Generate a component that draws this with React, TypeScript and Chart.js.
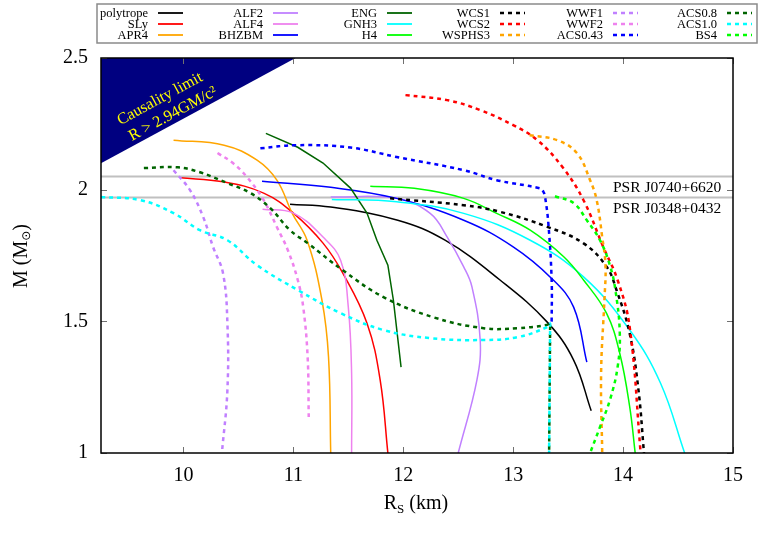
import React, { useEffect, useRef } from "react";
import { Chart, registerables } from "chart.js";

Chart.register(...registerables);

// ---------- data ----------
const xTicks = [10, 11, 12, 13, 14, 15];
const yTicks = [1, 1.5, 2, 2.5];
const xRange = [9.25, 15];
const yRange = [1, 2.5];

const psrMasses = [2.05, 1.97];
const psrNames = ["PSR J0740+6620", "PSR J0348+0432"];

// causality limit boundary (R in km, M in Msun)
const causalityEdge: [number, number][] = [
  [9.25, 2.1],
  [11.02, 2.5],
];
const causalityText = ["Causality limit", "R > 2.94GM/c²"];

const polytrope: [number, number][] = [
  [10.97, 1.945], [11.34, 1.934], [11.95, 1.884], [12.38, 1.808],
  [12.88, 1.657], [13.31, 1.497], [13.55, 1.353], [13.71, 1.16],
];
const SLy: [number, number][] = [
  [9.97, 2.045], [10.36, 2.03], [10.73, 1.987], [11.0, 1.911],
  [11.27, 1.797], [11.45, 1.683], [11.67, 1.493], [11.79, 1.277], [11.86, 1.0],
];
const APR4: [number, number][] = [
  [9.91, 2.188], [10.37, 2.169], [10.67, 2.112], [10.85, 2.036],
  [10.99, 1.91], [11.125, 1.808], [11.26, 1.581], [11.32, 1.365], [11.34, 1.0],
];
const ALF2: [number, number][] = [
  [11.34, 1.972], [11.94, 1.967], [12.245, 1.91], [12.4, 1.82],
  [12.55, 1.707], [12.625, 1.631], [12.7, 1.429], [12.67, 1.277], [12.5, 1.0],
];
const ALF4: [number, number][] = [
  [10.72, 1.926], [11.0, 1.911], [11.27, 1.82], [11.43, 1.732],
  [11.5, 1.554], [11.53, 1.304], [11.53, 1.0],
];
const BHZBM: [number, number][] = [
  [10.715, 2.032], [11.34, 2.009], [11.94, 1.967], [12.55, 1.884],
  [13.0, 1.783], [13.35, 1.663], [13.55, 1.554], [13.67, 1.345],
];
const ENG: [number, number][] = [
  [10.75, 2.214], [11.04, 2.161], [11.27, 2.101], [11.52, 2.006],
  [11.67, 1.911], [11.76, 1.808], [11.86, 1.713], [11.91, 1.581], [11.98, 1.326],
];
const GNH3: [number, number][] = [
  [11.35, 1.963], [11.94, 1.954], [12.55, 1.91], [13.155, 1.808],
  [13.64, 1.669], [14.06, 1.467], [14.34, 1.266], [14.56, 1.0],
];
const H4: [number, number][] = [
  [11.7, 2.013], [12.1, 2.005], [12.55, 1.967], [12.85, 1.91], [13.155, 1.846],
  [13.46, 1.745], [13.64, 1.657], [13.85, 1.53], [13.97, 1.378], [14.06, 1.176], [14.11, 1.0],
];
const WCS1: [number, number][] = [
  [11.88, 1.967], [12.55, 1.941], [12.88, 1.916], [13.31, 1.859], [13.64, 1.796],
  [13.85, 1.707], [13.94, 1.619], [14.06, 1.454], [14.14, 1.239], [14.19, 1.0],
];
const WCS2: [number, number][] = [
  [12.02, 2.359], [12.4, 2.34], [12.7, 2.302], [13.0, 2.245], [13.22, 2.188],
  [13.45, 2.085], [13.64, 1.96], [13.82, 1.782], [13.95, 1.657], [14.06, 1.478], [14.16, 1.0],
];
const WSPHS3: [number, number][] = [
  [13.15, 2.207], [13.4, 2.188], [13.58, 2.139], [13.7, 2.036], [13.76, 1.96],
  [13.81, 1.82], [13.84, 1.713], [13.83, 1.581], [13.8, 1.304], [13.81, 1.0],
];
const WWF1: [number, number][] = [
  [9.91, 2.074], [10.06, 1.998], [10.18, 1.896], [10.27, 1.782],
  [10.36, 1.683], [10.4, 1.493], [10.4, 1.239], [10.35, 1.0],
];
const WWF2: [number, number][] = [
  [10.31, 2.139], [10.45, 2.101], [10.58, 2.047], [10.73, 1.96], [10.85, 1.858],
  [10.95, 1.77], [11.04, 1.657], [11.09, 1.554], [11.13, 1.364], [11.14, 1.137],
];
const ACS043: [number, number][] = [
  [10.7, 2.157], [11.03, 2.169], [11.52, 2.16], [11.94, 2.124], [12.55, 2.074],
  [12.85, 2.036], [13.245, 2.005], [13.275, 1.992], [13.29, 1.973], [13.32, 1.872],
  [13.35, 1.657], [13.35, 1.492],
];
const ACS08: [number, number][] = [
  [9.64, 2.082], [9.95, 2.085], [10.15, 2.066], [10.4, 2.025], [10.61, 1.987],
  [10.79, 1.93], [10.97, 1.846], [11.13, 1.797], [11.45, 1.694], [11.82, 1.592],
  [12.27, 1.516], [12.73, 1.474], [13.04, 1.474], [13.306, 1.486], [13.336, 1.492],
  [13.336, 1.475], [13.327, 1.0],
];
const ACS10: [number, number][] = [
  [9.25, 1.972], [9.61, 1.96], [9.91, 1.911], [10.15, 1.846], [10.4, 1.808],
  [10.67, 1.713], [11.04, 1.619], [11.43, 1.531], [11.82, 1.467], [12.25, 1.436],
  [12.73, 1.429], [13.04, 1.44], [13.31, 1.478], [13.336, 1.492], [13.336, 1.475], [13.327, 1.0],
];
const BS4: [number, number][] = [
  [13.38, 1.975], [13.55, 1.949], [13.67, 1.884], [13.79, 1.808], [13.88, 1.713],
  [13.93, 1.619], [13.97, 1.455], [13.95, 1.326], [13.88, 1.201], [13.79, 1.099], [13.7, 1.0],
];

const seriesNames = [
  "polytrope", "SLy", "APR4", "ALF2", "ALF4", "BHZBM", "ENG", "GNH3", "H4",
  "WCS1", "WCS2", "WSPHS3", "WWF1", "WWF2", "ACS0.43", "ACS0.8", "ACS1.0", "BS4",
];
const seriesData = [
  polytrope, SLy, APR4, ALF2, ALF4, BHZBM, ENG, GNH3, H4,
  WCS1, WCS2, WSPHS3, WWF1, WWF2, ACS043, ACS08, ACS10, BS4,
];
const seriesColors = [
  "#000000", "#ff0000", "#ffa500", "#c080ff", "#ee82ee", "#0000ff", "#006400", "#00ffff", "#00ff00",
  "#000000", "#ff0000", "#ffa500", "#c080ff", "#ee82ee", "#0000ff", "#006400", "#00ffff", "#00ff00",
];
const seriesDashed = [
  false, false, false, false, false, false, false, false, false,
  true, true, true, true, true, true, true, true, true,
];
const seriesTension = [
  0.4, 0.4, 0.4, 0.4, 0.4, 0.4, 0, 0.4, 0.4,
  0.4, 0.4, 0.4, 0.4, 0.4, 0.4, 0.4, 0.4, 0.4,
];

// ---------- styling ----------
const SERIF = "'Liberation Serif', 'Times New Roman', serif";
const DASH = [4, 4];

const decorPlugin = {
  id: "decor",
  afterDatasetsDraw(chart: any) {
    const ctx: CanvasRenderingContext2D = chart.ctx;
    const { left, right, top, bottom } = chart.chartArea;
    const xs = chart.scales.x;
    const ys = chart.scales.y;
    ctx.save();

    // causality text
    ctx.fillStyle = "#ffff00";
    ctx.font = `16px ${SERIF}`;
    ctx.textAlign = "center";
    ctx.textBaseline = "middle";
    const p0x = xs.getPixelForValue(causalityEdge[0][0]);
    const p0y = ys.getPixelForValue(causalityEdge[0][1]);
    const p1x = xs.getPixelForValue(causalityEdge[1][0]);
    const p1y = ys.getPixelForValue(causalityEdge[1][1]);
    const ang = Math.atan2(p1y - p0y, p1x - p0x);
    const centers = [
      [160, 99],
      [173, 114],
    ];
    causalityText.forEach((t, i) => {
      ctx.save();
      ctx.translate(centers[i][0], centers[i][1]);
      ctx.rotate(ang);
      ctx.fillText(t, 0, 0);
      ctx.restore();
    });

    // PSR labels
    ctx.fillStyle = "#000";
    ctx.font = `15.5px ${SERIF}`;
    ctx.textAlign = "left";
    ctx.textBaseline = "middle";
    ctx.fillText(psrNames[0], 613, 188);
    ctx.fillText(psrNames[1], 613, 209);

    // inward ticks
    ctx.strokeStyle = "#707070";
    ctx.lineWidth = 1;
    ctx.beginPath();
    xTicks.forEach((v) => {
      const px = Math.round(xs.getPixelForValue(v)) + 0.5;
      ctx.moveTo(px, bottom);
      ctx.lineTo(px, bottom - 6);
      ctx.moveTo(px, top);
      ctx.lineTo(px, top + 6);
    });
    yTicks.forEach((v) => {
      const py = Math.round(ys.getPixelForValue(v)) + 0.5;
      ctx.moveTo(left, py);
      ctx.lineTo(left + 6, py);
      ctx.moveTo(right, py);
      ctx.lineTo(right - 6, py);
    });
    ctx.stroke();

    // frame
    ctx.strokeStyle = "#000";
    ctx.lineWidth = 1.5;
    ctx.strokeRect(left, top, right - left, bottom - top);

    // axis titles
    ctx.fillStyle = "#000";
    ctx.textBaseline = "alphabetic";
    ctx.textAlign = "left";
    // x title: R_S (km)
    {
      const big = `20px ${SERIF}`;
      const small = `13px ${SERIF}`;
      ctx.font = big;
      const wR = ctx.measureText("R").width;
      const wK = ctx.measureText(" (km)").width;
      ctx.font = small;
      const wS = ctx.measureText("S").width;
      const total = wR + wS + wK;
      let x = 416 - total / 2;
      const base = 509;
      ctx.font = big;
      ctx.fillText("R", x, base);
      x += wR;
      ctx.font = small;
      ctx.fillText("S", x, base + 4);
      x += wS;
      ctx.font = big;
      ctx.fillText(" (km)", x, base);
    }
    // y title: M (M_sun)
    {
      ctx.save();
      ctx.translate(20, 256);
      ctx.rotate(-Math.PI / 2);
      const big = `20px ${SERIF}`;
      const small = `12px 'DejaVu Sans', sans-serif`;
      ctx.font = big;
      const w1 = ctx.measureText("M (M").width;
      const w3 = ctx.measureText(")").width;
      ctx.font = small;
      const w2 = ctx.measureText("⊙").width;
      const total = w1 + w2 + w3;
      let x = -total / 2;
      const base = 7;
      ctx.font = big;
      ctx.fillText("M (M", x, base);
      x += w1;
      ctx.font = small;
      ctx.fillText("⊙", x, base + 3);
      x += w2;
      ctx.font = big;
      ctx.fillText(")", x, base);
      ctx.restore();
    }

    // legend
    const boxL = 97, boxT = 4, boxR = 757, boxB = 43;
    ctx.strokeStyle = "#8a8a8a";
    ctx.lineWidth = 1.5;
    ctx.strokeRect(boxL, boxT, boxR - boxL, boxB - boxT);
    const colEnd = [148, 263, 377, 490, 603, 717];
    const rowY = [13, 24, 35];
    ctx.font = `12.5px ${SERIF}`;
    ctx.textAlign = "right";
    ctx.textBaseline = "middle";
    seriesNames.forEach((name, i) => {
      const c = Math.floor(i / 3);
      const r = i % 3;
      const xe = colEnd[c];
      const y = rowY[r];
      ctx.fillStyle = "#000";
      ctx.fillText(name, xe, y + 0.5);
      ctx.strokeStyle = seriesColors[i];
      ctx.lineWidth = seriesDashed[i] ? 2.5 : 1.8;
      ctx.setLineDash(seriesDashed[i] ? DASH : []);
      ctx.beginPath();
      ctx.moveTo(xe + 10, y);
      ctx.lineTo(xe + 35, y);
      ctx.stroke();
    });
    ctx.setLineDash([]);
    ctx.restore();
  },
};

export default function App() {
  const ref = useRef<HTMLCanvasElement>(null);

  useEffect(() => {
    const n = seriesData.length;
    const datasets: any[] = [];

    datasets.push({
      label: "causality",
      data: causalityEdge.map(([x, y]) => ({ x, y })),
      showLine: true,
      borderWidth: 0,
      borderColor: "rgba(0,0,0,0)",
      backgroundColor: "#000080",
      fill: "end",
      pointRadius: 0,
      order: 1000,
    });
    psrMasses.forEach((m, i) => {
      datasets.push({
        label: psrNames[i],
        data: [
          { x: xRange[0], y: m },
          { x: xRange[1], y: m },
        ],
        showLine: true,
        borderColor: "#c0c0c0",
        borderWidth: 2,
        pointRadius: 0,
        fill: false,
        order: 500,
      });
    });
    seriesData.forEach((pts, i) => {
      datasets.push({
        label: seriesNames[i],
        data: pts.map(([x, y]) => ({ x, y })),
        showLine: true,
        borderColor: seriesColors[i],
        borderWidth: seriesDashed[i] ? 2.5 : 1.5,
        borderDash: seriesDashed[i] ? DASH : [],
        tension: seriesTension[i],
        pointRadius: 0,
        fill: false,
        order: n - i,
      });
    });

    const chart = new Chart(ref.current!, {
      type: "scatter",
      data: { datasets },
      plugins: [decorPlugin],
      options: {
        animation: false,
        responsive: true,
        maintainAspectRatio: false,
        events: [],
        layout: { padding: { left: 0, right: 38, top: 58, bottom: 0 } },
        plugins: {
          legend: { display: false },
          tooltip: { enabled: false },
          title: { display: false },
        },
        scales: {
          x: {
            type: "linear",
            min: xRange[0],
            max: xRange[1],
            grid: { display: false, drawTicks: false },
            border: { display: false },
            ticks: {
              color: "#000",
              font: { family: SERIF, size: 20 },
              padding: 11,
              maxRotation: 0,
              autoSkip: false,
              callback: (v: any) => String(v),
            },
            afterBuildTicks: (s: any) => {
              s.ticks = xTicks.map((v) => ({ value: v }));
            },
            afterFit: (s: any) => {
              s.height = 87;
            },
          },
          y: {
            type: "linear",
            min: yRange[0],
            max: yRange[1],
            grid: { display: false, drawTicks: false },
            border: { display: false },
            ticks: {
              color: "#000",
              font: { family: SERIF, size: 20 },
              padding: 13,
              autoSkip: false,
              callback: (v: any) => String(v),
            },
            afterBuildTicks: (s: any) => {
              s.ticks = yTicks.map((v) => ({ value: v }));
            },
            afterFit: (s: any) => {
              s.width = 101;
            },
          },
        },
      },
    });
    return () => chart.destroy();
  }, []);

  return (
    <div
      style={{
        position: "absolute",
        left: 0,
        top: 0,
        width: 771,
        height: 540,
        background: "#fff",
      }}
    >
      <canvas ref={ref} />
    </div>
  );
}
